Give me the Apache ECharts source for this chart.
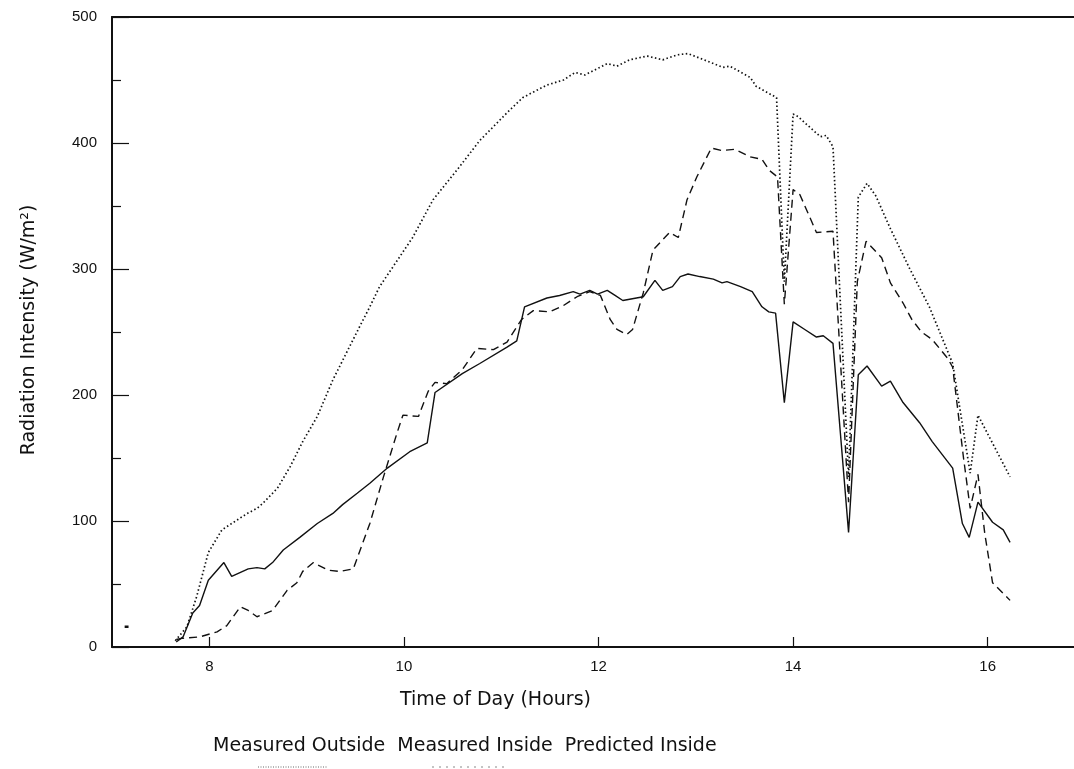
<!DOCTYPE html>
<html>
<head>
<meta charset="utf-8">
<script src="https://cdn.jsdelivr.net/npm/echarts@6/dist/echarts.min.js"></script>
<style>
html,body{margin:0;padding:0;background:#fff;}
#chart{width:1074px;height:769px;}
</style>
</head>
<body>
<div id="chart"></div>
<script>
// ---- data (hour, W/m²) ----
var measuredOutside = [[7.65,5],[7.77,16],[7.87,40],[7.99,75],[8.13,93],[8.21,97],[8.39,106],[8.49,110],[8.55,114],[8.70,126],[8.83,143],[8.96,163],[9.11,183],[9.27,212],[9.4,232],[9.55,255],[9.65,270],[9.75,286],[9.89,302],[10.09,325],[10.30,355],[10.55,379],[10.78,402],[11.06,424],[11.22,436],[11.47,446],[11.64,450],[11.76,456],[11.86,454],[12.09,463],[12.19,461],[12.32,466],[12.50,469],[12.66,466],[12.81,470],[12.92,471],[13.15,464],[13.28,460],[13.35,461],[13.56,452],[13.62,445],[13.83,436],[13.91,290],[14.0,423],[14.05,421],[14.28,405],[14.34,406],[14.41,397],[14.57,135],[14.67,357],[14.76,368],[14.85,358],[15.0,332],[15.2,300],[15.4,270],[15.64,225],[15.82,138],[15.9,184],[16.23,135]];
var measuredInside = [[7.66,6],[7.73,7],[7.90,8],[8.08,12],[8.18,17],[8.32,32],[8.40,29],[8.49,24],[8.65,29],[8.80,45],[8.90,51],[8.96,60],[9.07,67],[9.22,61],[9.34,60],[9.48,62],[9.65,98],[9.79,135],[9.93,170],[9.99,184],[10.15,183],[10.25,203],[10.32,210],[10.44,209],[10.60,220],[10.75,237],[10.92,236],[11.06,242],[11.21,260],[11.33,267],[11.50,266],[11.64,271],[11.78,278],[11.91,282],[12.02,279],[12.12,260],[12.19,252],[12.29,248],[12.35,252],[12.46,281],[12.56,315],[12.73,329],[12.82,325],[12.91,355],[13.01,373],[13.16,396],[13.27,394],[13.40,395],[13.56,389],[13.68,387],[13.76,378],[13.84,373],[13.91,272],[14.0,363],[14.07,359],[14.24,329],[14.41,330],[14.57,115],[14.66,290],[14.75,322],[14.91,309],[15.0,289],[15.13,273],[15.22,260],[15.32,250],[15.43,244],[15.59,229],[15.64,222],[15.75,151],[15.82,110],[15.9,137],[15.97,90],[16.05,51],[16.23,37]];
var predictedInside = [[7.66,4],[7.73,8],[7.83,27],[7.90,33],[7.99,53],[8.15,67],[8.23,56],[8.40,62],[8.49,63],[8.57,62],[8.65,67],[8.76,77],[8.93,87],[9.11,98],[9.27,106],[9.37,113],[9.52,122],[9.65,130],[9.83,142],[10.06,155],[10.24,162],[10.32,202],[10.60,217],[10.78,225],[11.06,238],[11.16,243],[11.24,270],[11.47,277],[11.60,279],[11.74,282],[11.81,280],[11.91,283],[11.99,280],[12.09,283],[12.17,279],[12.25,275],[12.46,278],[12.58,291],[12.66,283],[12.76,286],[12.84,294],[12.92,296],[13.04,294],[13.18,292],[13.27,289],[13.32,290],[13.46,286],[13.58,282],[13.68,270],[13.75,266],[13.82,265],[13.91,194],[14.0,258],[14.12,252],[14.24,246],[14.31,247],[14.41,241],[14.57,91],[14.67,216],[14.76,223],[14.91,207],[15.0,211],[15.13,194],[15.3,178],[15.43,163],[15.64,142],[15.74,98],[15.81,87],[15.9,115],[16.05,99],[16.16,93],[16.23,83]];
var strayMark = [[7.13,16],[7.17,16]];
var xTickValues = [8,10,12,14,16];
var seriesNames = ['Measured Outside','Measured Inside','Predicted Inside'];
var xTitle = 'Time of Day (Hours)';
var yTitle = 'Radiation Intensity (W/m²)';

var chart = echarts.init(document.getElementById('chart'), null, {renderer:'canvas'});
var ink = '#111';
var FONT = 'DejaVu Sans';
var xMin = 7, xMax = 7 + (1074-112)/97.3;

chart.setOption({
  backgroundColor:'#fff',
  animation:false,
  grid:{left:112, top:17, right:0, bottom:122, containLabel:false},
  xAxis:[{
    type:'value', min:xMin, max:xMax, position:'bottom',
    axisLine:{show:true, onZero:false, lineStyle:{color:ink, width:2}},
    axisTick:{show:true, inside:true, length:10, customValues:xTickValues, lineStyle:{color:ink, width:1.2}},
    axisLabel:{show:true, customValues:xTickValues, margin:12, color:ink, fontFamily:'Liberation Sans', fontSize:15},
    splitLine:{show:false}
  },{
    type:'value', min:xMin, max:xMax, position:'top',
    axisLine:{show:true, onZero:false, lineStyle:{color:ink, width:2}},
    axisTick:{show:false}, axisLabel:{show:false}, splitLine:{show:false}
  }],
  yAxis:{
    type:'value', min:0, max:500, interval:100,
    axisLine:{show:true, lineStyle:{color:ink, width:2}},
    axisTick:{show:true, inside:true, length:17, lineStyle:{color:ink, width:1.2}},
    minorTick:{show:true, splitNumber:2, length:9, lineStyle:{color:ink, width:1.2}},
    axisLabel:{color:ink, margin:15, fontFamily:'Liberation Sans', fontSize:15},
    splitLine:{show:false}
  },
  series:[
    {name:seriesNames[0], type:'line', data:measuredOutside, symbol:'none', xAxisIndex:0,
     lineStyle:{color:ink, width:1.7, type:[1.5,2.5]}},
    {name:seriesNames[1], type:'line', data:measuredInside, symbol:'none', xAxisIndex:0,
     lineStyle:{color:ink, width:1.4, type:[8,5]}},
    {name:seriesNames[2], type:'line', data:predictedInside, symbol:'none', xAxisIndex:0,
     lineStyle:{color:ink, width:1.4}},
    {name:'mark', type:'line', data:strayMark, symbol:'none', xAxisIndex:0,
     lineStyle:{color:ink, width:2.5}, silent:true}
  ],
  graphic:[
    {type:'text', left:400, top:691, style:{text:xTitle, fontFamily:FONT, fontSize:19, fill:ink}},
    {type:'text', x:20, y:330, rotation:Math.PI/2, style:{text:yTitle, fontFamily:FONT, fontSize:19, fill:ink, align:'center', verticalAlign:'top'}},
    {type:'text', left:213, top:737, style:{text:seriesNames[0]+'  '+seriesNames[1]+'  '+seriesNames[2], fontFamily:FONT, fontSize:19, fill:ink}},
    {type:'line', shape:{x1:258, y1:767, x2:328, y2:767}, style:{stroke:'#666', lineWidth:1, lineDash:[1,1.5]}},
    {type:'line', shape:{x1:432, y1:767, x2:505, y2:767}, style:{stroke:'#888', lineWidth:1, lineDash:[2,5]}}
  ]
});
</script>
</body>
</html>
